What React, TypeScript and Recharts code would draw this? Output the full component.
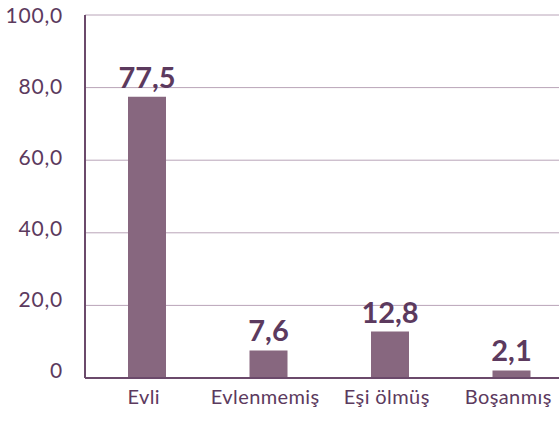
import { BarChart, Bar, XAxis, YAxis, CartesianGrid, LabelList } from "recharts";

const categories = ["Evli", "Evlenmemiş", "Eşi ölmüş", "Boşanmış"];
const values = [77.5, 7.6, 12.8, 2.1];
const yTicks = [0, 20, 40, 60, 80, 100];

const data = categories.map((name, i) => ({ name, value: values[i] }));

const fmt = (v: number) => (v === 0 ? "0" : v.toFixed(1).replace(".", ","));

const TEXT = "#5c3a5e";
const AXIS = "#6b4a6b";
const GRID = "#b9a4b8";
const BAR = "#87677f";
const FONT = "Lato, 'Open Sans', sans-serif";

function YTick(props: any) {
  const { x, y, payload } = props;
  // labels in the original drift upward a bit toward the bottom
  const dy = -(100 - payload.value) * 0.075;
  return (
    <text
      x={x}
      y={y + dy}
      dy="0.36em"
      textAnchor="end"
      fill={TEXT}
      fontSize={21}
      letterSpacing={0.8}
      fontFamily={FONT}
    >
      {fmt(payload.value)}
    </text>
  );
}

function XTick(props: any) {
  const { x, y, payload } = props;
  return (
    <text
      x={x - 3}
      y={y}
      dy="0.71em"
      textAnchor="middle"
      fill={TEXT}
      fontSize={20}
      letterSpacing={0.4}
      fontFamily={FONT}
    >
      {payload.value}
    </text>
  );
}

export default function App() {
  return (
    <div style={{ position: "absolute", left: 0, top: 0, width: 559, height: 421, background: "#fff" }}>
      <BarChart
        width={559}
        height={421}
        data={data}
        margin={{ top: 15, right: 0, bottom: 13, left: 0 }}
      >
        <CartesianGrid vertical={false} stroke={GRID} strokeWidth={1} />
        <XAxis
          dataKey="name"
          height={30}
          axisLine={{ stroke: AXIS, strokeWidth: 2 }}
          tickLine={false}
          tickSize={0}
          tickMargin={12}
          padding={{ left: 1, right: -13 }}
          tick={<XTick />}
          interval={0}
        />
        <YAxis
          width={85}
          domain={[0, 100]}
          ticks={yTicks}
          axisLine={{ stroke: AXIS, strokeWidth: 2 }}
          tickLine={false}
          tickSize={0}
          tickMargin={22}
          tick={<YTick />}
        />
        <Bar dataKey="value" fill={BAR} barSize={38} isAnimationActive={false}>
          <LabelList
            dataKey="value"
            position="top"
            offset={9}
            formatter={(v: any) => fmt(Number(v))}
            style={{ fill: TEXT, fontSize: 29, fontWeight: 700, fontFamily: FONT }}
          />
        </Bar>
      </BarChart>
    </div>
  );
}
